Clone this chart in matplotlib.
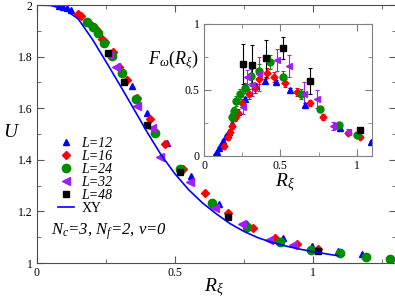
import numpy as np
import matplotlib
matplotlib.use("Agg")
import matplotlib.pyplot as plt
from matplotlib.ticker import MultipleLocator, FormatStrFormatter

plt.rcParams['font.family'] = ['Liberation Serif', 'DejaVu Serif']
plt.rcParams['mathtext.fontset'] = 'custom'
plt.rcParams['mathtext.rm'] = 'Liberation Serif'
plt.rcParams['mathtext.it'] = 'Liberation Serif:italic'
plt.rcParams['mathtext.bf'] = 'Liberation Serif:bold'

# ---- main panel: U vs R_xi ----
xy_r = [0.0, 0.05, 0.10, 0.15, 0.20, 0.25, 0.30, 0.35, 0.40, 0.45, 0.50, 0.55,
        0.60, 0.65, 0.70, 0.75, 0.80, 0.85, 0.90, 0.95, 1.00, 1.05, 1.09]
xy_u = [2.000, 1.998, 1.984, 1.945, 1.868, 1.780, 1.690, 1.598, 1.505, 1.418,
        1.345, 1.283, 1.232, 1.190, 1.152, 1.122, 1.098, 1.080, 1.066, 1.054,
        1.044, 1.035, 1.028]

r12 = [0.080, 0.094, 0.109, 0.123, 0.300, 0.344, 0.399, 0.471, 0.558, 0.659, 0.761, 0.891, 0.996, 1.091, 1.178]
u12 = [1.996, 1.992, 1.988, 1.980, 1.760, 1.685, 1.580, 1.464, 1.336, 1.227, 1.150, 1.095, 1.064, 1.045, 1.033]

r16 = [0.149, 0.159, 0.196, 0.214, 0.236, 0.246, 0.275, 0.297, 0.326, 0.362, 0.409, 0.464, 0.529,
       0.609, 0.692, 0.783, 0.862, 0.942, 1.018]
u16 = [1.965, 1.957, 1.922, 1.907, 1.868, 1.856, 1.817, 1.759, 1.709, 1.639, 1.557, 1.460, 1.363,
       1.270, 1.192, 1.134, 1.095, 1.072, 1.056]

r24 = [0.181, 0.203, 0.221, 0.243, 0.272, 0.308, 0.359, 0.428, 0.518, 0.634, 0.761, 0.880, 0.993, 1.098, 1.192, 1.279]
u24 = [1.934, 1.915, 1.891, 1.852, 1.802, 1.736, 1.635, 1.503, 1.363, 1.231, 1.138, 1.083, 1.052, 1.037, 1.025, 1.017]

r32 = [0.261, 0.286, 0.362, 0.417, 0.446, 0.554, 0.645, 0.743, 0.841, 0.928]
u32 = [1.806, 1.759, 1.608, 1.522, 1.410, 1.313, 1.212, 1.150, 1.091, 1.068]

r48 = [0.257, 0.315, 0.399, 0.518, 0.692, 1.018]
u48 = [1.814, 1.701, 1.534, 1.351, 1.177, 1.045]

# ---- inset: F_omega vs R_xi ----
fr12 = [0.072, 0.085, 0.098, 0.111, 0.124, 0.144, 0.163, 0.183, 0.222, 0.268, 0.340, 0.399, 0.471, 0.562, 0.660, 0.889, 1.092]
f12 = [0.008, 0.030, 0.061, 0.083, 0.114, 0.152, 0.182, 0.242, 0.333, 0.432, 0.530, 0.568, 0.561, 0.500, 0.386, 0.212, 0.106]
e12 = [0.005, 0.005, 0.006, 0.006, 0.007, 0.008, 0.008, 0.010, 0.010, 0.012, 0.012, 0.012, 0.012, 0.012, 0.012, 0.010, 0.008]

fr16 = [0.131, 0.157, 0.170, 0.183, 0.203, 0.222, 0.248, 0.294, 0.333, 0.360, 0.412, 0.458, 0.529, 0.608, 0.693, 0.778, 0.856, 0.941, 1.020]
f16 = [0.076, 0.144, 0.182, 0.227, 0.288, 0.326, 0.402, 0.470, 0.515, 0.583, 0.629, 0.598, 0.553, 0.485, 0.402, 0.295, 0.227, 0.174, 0.144]
e16 = [0.02, 0.02, 0.02, 0.025, 0.025, 0.03, 0.03, 0.035, 0.035, 0.04, 0.04, 0.04, 0.03, 0.03, 0.025, 0.02, 0.02, 0.015, 0.015]

fr24 = [0.183, 0.196, 0.209, 0.235, 0.268, 0.307, 0.360, 0.431, 0.516, 0.634, 0.758, 0.882, 1.000]
f24 = [0.295, 0.341, 0.417, 0.470, 0.515, 0.606, 0.644, 0.712, 0.598, 0.470, 0.356, 0.235, 0.159]
e24 = [0.03, 0.03, 0.035, 0.04, 0.04, 0.05, 0.05, 0.05, 0.045, 0.035, 0.025, 0.02, 0.015]

fr32 = [0.255, 0.281, 0.314, 0.360, 0.477, 0.556, 0.654, 0.739, 0.843, 0.941]
f32 = [0.371, 0.598, 0.538, 0.620, 0.727, 0.682, 0.470, 0.432, 0.227, 0.182]
e32 = [0.05, 0.05, 0.08, 0.13, 0.08, 0.085, 0.09, 0.07, 0.03, 0.02]

fr48 = [0.255, 0.314, 0.405, 0.516, 0.693, 1.020]
f48 = [0.697, 0.689, 0.742, 0.818, 0.568, 0.197]
e48 = [0.15, 0.155, 0.14, 0.08, 0.095, 0.01]

labels = ['L=12', 'L=16', 'L=24', 'L=32', 'L=48']
colors = ['#0000ff', '#ff0000', '#008c00', '#a020f0', '#000000']
markers = ['^', 'D', 'o', '<', 's']
msizes = [5, 4.5, 6, 5.5, 5]

fig = plt.figure(figsize=(3.95, 3.04), dpi=100)
ax = fig.add_axes([37/395, 41/304, 359/395, 258/304])

main_r = [r12, r16, r24, r32, r48]
main_u = [u12, u16, u24, u32, u48]
for rr, uu, c, m, ms, lab in zip(main_r, main_u, colors, markers, msizes, labels):
    ax.plot(rr, uu, ls='none', marker=m, color=c, ms=ms, mec=c, label=lab)
ax.plot(xy_r, xy_u, color='#0000ff', lw=1.2, label='XY')

ax.set_xlim(0, 1.3)
ax.set_ylim(1, 2)
ax.xaxis.set_major_locator(MultipleLocator(0.5))
ax.xaxis.set_minor_locator(MultipleLocator(0.25))
ax.yaxis.set_major_locator(MultipleLocator(0.2))
ax.yaxis.set_minor_locator(MultipleLocator(0.1))
ax.xaxis.set_major_formatter(FormatStrFormatter('%g'))
ax.yaxis.set_major_formatter(FormatStrFormatter('%g'))
ax.tick_params(which='both', direction='in', top=True, right=True, labelsize=8.5,
               color='0.35')
ax.tick_params(which='major', length=5, pad=3)
ax.tick_params(which='minor', length=3)
for s in ax.spines.values():
    s.set_color('0.3')

ax.text(0.493, -0.097, r'$R_\xi$', transform=ax.transAxes, fontsize=14,
        ha='center', va='center')
ax.text(-0.07, 0.504, r'$U$', transform=ax.transAxes, fontsize=14,
        ha='center', va='center')

leg = ax.legend(loc='upper left', bbox_to_anchor=(0.058, 0.49), frameon=False,
                prop={'family': 'Liberation Serif', 'style': 'italic', 'size': 10},
                labelspacing=0.0, handlelength=1.2, handletextpad=0.5,
                borderaxespad=0.0, borderpad=0.0)
leg.get_texts()[5].set_fontstyle('normal')

ax.text(0.04, 0.12, r'$N_c$=3, $N_f$=2, $v$=0', transform=ax.transAxes,
        fontsize=12, fontstyle='italic', ha='left', va='center')

# ---- inset ----
ax2 = fig.add_axes([204/395, 148/304, 168/395, 132/304])
ins_r = [fr12, fr16, fr24, fr32, fr48]
ins_f = [f12, f16, f24, f32, f48]
ins_e = [e12, e16, e24, e32, e48]
for rr, ff, ee, c, m, ms in zip(ins_r, ins_f, ins_e, colors, markers, msizes):
    ax2.errorbar(rr, ff, yerr=ee, ls='none', marker=m, color=c, ms=ms - 1,
                 mec=c, elinewidth=0.8, capsize=1.5, capthick=0.8)

ax2.set_xlim(0, 1.1)
ax2.set_ylim(0, 1)
ax2.xaxis.set_major_locator(MultipleLocator(0.5))
ax2.xaxis.set_minor_locator(MultipleLocator(0.25))
ax2.yaxis.set_major_locator(MultipleLocator(0.5))
ax2.yaxis.set_minor_locator(MultipleLocator(0.25))
ax2.xaxis.set_major_formatter(FormatStrFormatter('%g'))
ax2.yaxis.set_major_formatter(FormatStrFormatter('%g'))
ax2.tick_params(which='both', direction='in', top=True, right=True, labelsize=8.5,
                color='0.5')
ax2.tick_params(which='major', length=5, pad=3)
ax2.tick_params(which='minor', length=3)
for s in ax2.spines.values():
    s.set_color('0.5')

ax2.text(-0.185, 0.727, r'$F_\omega(R_\xi)$', transform=ax2.transAxes,
         fontsize=13, ha='center', va='center')
ax2.text(0.48, -0.205, r'$R_\xi$', transform=ax2.transAxes, fontsize=14,
         ha='center', va='center')

fig.savefig('out.png', dpi=100)
